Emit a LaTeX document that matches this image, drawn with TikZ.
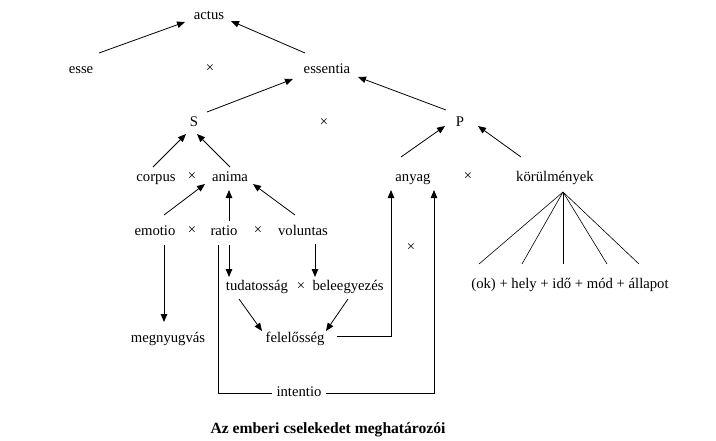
\documentclass[tikz,border=0pt]{standalone}
\usepackage{fontspec}
\setmainfont{Liberation Serif}
\usetikzlibrary{arrows.meta}
\usetikzlibrary{calc}

\begin{document}
\begin{tikzpicture}[x=1pt,y=-1pt,line width=0.8pt,
		every node/.style={font=\fontsize{14.7}{17}\selectfont,text height=9.6pt,text depth=3pt,inner sep=1pt},
		arr/.style={-{Triangle[length=8pt,width=6.5pt]}}]
		\useasboundingbox (0,0) rectangle (716,440);
		% felso szintek
		\node (actus) at (209,16) {actus};
		\node (esse) at (81,70) {esse};
		\node (x1) at (210,69) {×};
		\node (essentia) at (327,70) {essentia};
		\node (S) at (194,123) {S};
		\node (x2) at (324,123) {×};
		\node (P) at (460,123) {P};
		\node (corpus) at (156,178) {corpus};
		\node (x3) at (192,177) {×};
		\node (anima) at (230,178) {anima};
		\node (anyag) at (413,178) {anyag};
		\node (x4) at (468,177) {×};
		\node (korulm) at (555,178) {körülmények};
		% also szintek
		\node (emotio) at (155,232) {emotio};
		\node (x5) at (192,231) {×};
		\node (ratio) at (224,232) {ratio};
		\node (x6) at (258,231) {×};
		\node (voluntas) at (303,232) {voluntas};
		\node (x7) at (411,248) {×};
		\node (tudat) at (257,287) {tudatosság};
		\node (x8) at (301,287) {×};
		\node (beleegy) at (348,287) {beleegyezés};
		\node (megnyug) at (168,339) {megnyugvás};
		\node (feleloss) at (295,339) {felelősség};
		\node[inner xsep=4pt] (intentio) at (299,393) {intentio};
		\node (sum) at (570,285) {(ok) + hely + idő + mód + állapot};
		\node (cim) at (328,430) {\fontsize{15.6}{18}\selectfont\bfseries Az emberi cselekedet meghatározói};
		% nyilak
		\draw[arr] ($(esse)+(18,-17)$) -- ($(actus)+(-24,6)$);
		\draw[arr] ($(essentia)+(-22,-17)$) -- ($(actus)+(22,5)$);
		\draw[arr] ($(S)+(13,-11)$) -- ($(essentia)+(-34,9)$);
		\draw[arr] ($(P)+(-14,-13)$) -- ($(essentia)+(31,7)$);
		\draw[arr] ($(corpus)+(-3,-11)$) -- ($(S)+(-8,11)$);
		\draw[arr] ($(anima)+(0,-11)$) -- ($(S)+(3,11)$);
		\draw[arr] ($(anyag)+(-12,-21)$) -- ($(P)+(-15,3)$);
		\draw[arr] ($(korulm)+(-34,-21)$) -- ($(P)+(18,3)$);
		\draw[arr] ($(emotio)+(9,-17)$) -- ($(anima)+(-25,6)$);
		\draw[arr] ($(ratio)+(5,-11)$) -- ($(anima)+(-1,12)$);
		\draw[arr] ($(voluntas)+(-8,-17)$) -- ($(anima)+(23,6)$);
		\draw[arr] ($(emotio)+(9,13)$) -- ($(megnyug)+(-4,-17)$);
		\draw[arr] ($(ratio)+(5,13)$) -- ($(tudat)+(-28,-10)$);
		\draw[arr] ($(voluntas)+(12,12)$) -- ($(beleegy)+(-33,-10)$);
		\draw[arr] ($(tudat)+(-18,12)$) -- ($(feleloss)+(-33,-8)$);
		\draw[arr] ($(beleegy)+(0,12)$) -- ($(feleloss)+(31,-8)$);
		\draw[arr] ($(feleloss)+(42,-3)$) -| ($(anyag)+(-22,12)$);
		\draw ($(ratio)+(-6,13)$) |- (intentio.west);
		\draw[arr] (intentio.east) -| ($(anyag)+(21,12)$);
		% korulmenyek legyezo
		\coordinate (csucs) at ($(korulm)+(8,14)$);
		\foreach \dx in {-91,-48,-7,37,69}
			\draw[line width=0.6pt] (csucs) -- ($(sum)+(\dx,-21)$);
	\end{tikzpicture}
\end{document}
